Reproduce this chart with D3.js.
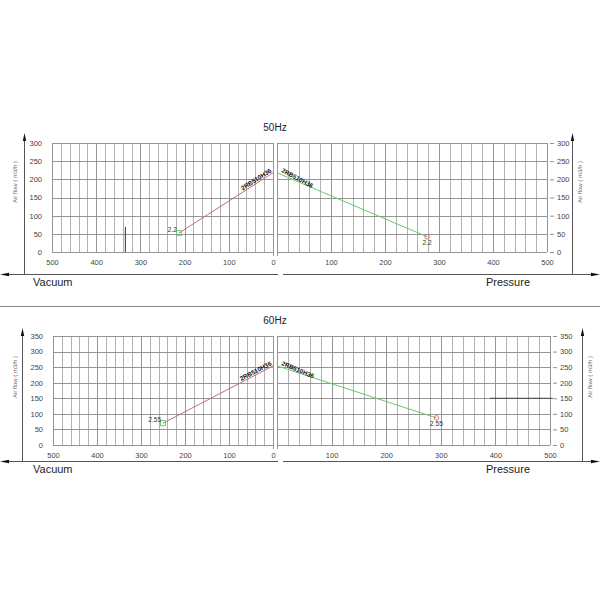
<!DOCTYPE html>
<html>
<head>
<meta charset="utf-8">
<script src="https://cdn.jsdelivr.net/npm/d3@7"></script>
<style>
  body { margin: 0; background: #fff; }
  text { font-family: "Liberation Sans", Arial, sans-serif; }
</style>
</head>
<body>
<div id="main-canvas"></div>
<script>
// Performance curves, two frequencies, vacuum side on the left and pressure side on the right

// ------------ DATA ------------ //
const hzLabels = ["50Hz", "60Hz"];
const modelName = "2RB510H36";
const powerLabels = ["2.2", "2.55"];          // kW at the end point of each curve
const pressureTicks = [0, 100, 200, 300, 400, 500];
const airflowTicks50 = [0, 50, 100, 150, 200, 250, 300];
const airflowTicks60 = [0, 50, 100, 150, 200, 250, 300, 350];

// [mbar, m3/h]
const vacuumCurve50 = [[213, 52], [0, 218]];
const pressureCurve50 = [[0, 218], [278, 42]];
const vacuumCurve60 = [[250, 70], [0, 254]];
const pressureCurve60 = [[0, 254], [292, 87]];

// stray marks that are in the scanned sheet
const strayVacuum50 = [[334, 0], [334, 69]];
const strayPressure60 = [[390, 150], [505, 150]];

// ------------ SET UP ------------ //
const width = 600, height = 600;

let svg = d3.select("#main-canvas").append("svg")
    .attr("width", width)
    .attr("height", height)

// separator between both charts
svg.append("line")
    .attr("x1", 0).attr("x2", width)
    .attr("y1", 306.5).attr("y2", 306.5)
    .attr("stroke", "#888").attr("stroke-width", 1)

drawChart({
    title: hzLabels[0], power: powerLabels[0], ticks: airflowTicks50,
    vac: vacuumCurve50, pre: pressureCurve50, strayVac: strayVacuum50,
    y0: 252, yTop: 143, left: [52, 273], right: [277, 547],
    axisY: 274, leftAxisX: 24, rightAxisX: 572, axisTop: 133,
    titleY: 131, airLabelY: 182, rightLabelX: 580, bottomTextY: 286
})

drawChart({
    title: hzLabels[1], power: powerLabels[1], ticks: airflowTicks60,
    vac: vacuumCurve60, pre: pressureCurve60, strayPre: strayPressure60,
    y0: 445, yTop: 336, left: [53, 273], right: [277, 550],
    axisY: 461, leftAxisX: 22, rightAxisX: 582, axisTop: 328,
    titleY: 324, airLabelY: 377, rightLabelX: 590, bottomTextY: 473
})

// ------------ FUNCTIONS ------------ //
function drawChart(c) {
    let g = svg.append("g")
    let yMax = c.ticks[c.ticks.length - 1]

    let y = d3.scaleLinear().domain([0, yMax]).range([c.y0, c.yTop])
    let xVac = d3.scaleLinear().domain([500, 0]).range(c.left)
    let xPre = d3.scaleLinear().domain([0, 500]).range(c.right)

    let gridValues = d3.range(0, 501, 20)

    // grids for both panels
    ;[xVac, xPre].forEach(x => {
        let grid = g.append("g").attr("class", "grid")
        grid.selectAll("line.v")
            .data(gridValues)
            .enter().append("line")
            .attr("x1", d => Math.round(x(d)) + 0.5)
            .attr("x2", d => Math.round(x(d)) + 0.5)
            .attr("y1", y(yMax))
            .attr("y2", d => d === 0 ? c.y0 + 4 : c.y0)
            .attr("stroke", d => d % 100 === 0 ? "#8a8a8a" : "#a8a8a8")
            .attr("stroke-width", 0.9)
        grid.selectAll("line.h")
            .data(c.ticks)
            .enter().append("line")
            .attr("x1", d3.min(x.range()))
            .attr("x2", d3.max(x.range()))
            .attr("y1", d => Math.round(y(d)) + 0.5)
            .attr("y2", d => Math.round(y(d)) + 0.5)
            .attr("stroke", "#8a8a8a")
            .attr("stroke-width", 0.9)
    })

    // x tick labels (the shared 0 is written once, under the vacuum panel)
    let xAxisVac = g.append("g")
        .attr("transform", `translate(0,${c.y0 + 5})`)
        .call(d3.axisBottom(xVac).tickValues(pressureTicks).tickSize(0))
    let xAxisPre = g.append("g")
        .attr("transform", `translate(0,${c.y0 + 5})`)
        .call(d3.axisBottom(xPre).tickValues(pressureTicks.filter(d => d > 0)).tickSize(0))
    ;[xAxisVac, xAxisPre].forEach(a => {
        a.select(".domain").remove()
        a.selectAll("text").attr("font-size", 7.5).attr("fill", "#444")
            .attr("font-family", "Liberation Sans, Arial, sans-serif")
    })

    // y tick labels, left and right
    let yLeft = g.append("g")
        .attr("transform", `translate(${c.left[0] - 3},0)`)
        .call(d3.axisLeft(y).tickValues(c.ticks).tickSize(0).tickPadding(7))
    let yRight = g.append("g")
        .attr("transform", `translate(${c.right[1] + 3},0)`)
        .call(d3.axisRight(y).tickValues(c.ticks).tickSize(4).tickPadding(3))
    ;[yLeft, yRight].forEach(a => {
        a.select(".domain").remove()
        a.selectAll("line").attr("stroke", "#777").attr("stroke-width", 0.8)
        a.selectAll("text").attr("font-size", 7.5).attr("fill", "#444")
            .attr("font-family", "Liberation Sans, Arial, sans-serif")
    })

    // main axes with arrows
    let axisColor = "#555"
    g.append("line")
        .attr("x1", 4).attr("x2", c.left[1] + 5)
        .attr("y1", c.axisY + 0.5).attr("y2", c.axisY + 0.5)
        .attr("stroke", axisColor)
    g.append("line")
        .attr("x1", c.right[0] + 6).attr("x2", width - 4)
        .attr("y1", c.axisY + 0.5).attr("y2", c.axisY + 0.5)
        .attr("stroke", axisColor)
    g.append("line")
        .attr("x1", c.leftAxisX + 0.5).attr("x2", c.leftAxisX + 0.5)
        .attr("y1", c.axisTop + 4).attr("y2", c.axisY)
        .attr("stroke", axisColor)
    g.append("line")
        .attr("x1", c.rightAxisX + 0.5).attr("x2", c.rightAxisX + 0.5)
        .attr("y1", c.axisTop + 4).attr("y2", c.axisY)
        .attr("stroke", axisColor)

    let arrows = [
        [[0, c.axisY + 0.5], [9, c.axisY - 1.2], [9, c.axisY + 2.2]],
        [[width, c.axisY + 0.5], [width - 9, c.axisY - 1.2], [width - 9, c.axisY + 2.2]],
        [[c.leftAxisX + 0.5, c.axisTop], [c.leftAxisX - 1.2, c.axisTop + 8], [c.leftAxisX + 2.2, c.axisTop + 8]],
        [[c.rightAxisX + 0.5, c.axisTop], [c.rightAxisX - 1.2, c.axisTop + 8], [c.rightAxisX + 2.2, c.axisTop + 8]]
    ]
    g.selectAll("path.arrow")
        .data(arrows)
        .enter().append("path")
        .attr("d", d => "M" + d.join("L") + "Z")
        .attr("fill", "#111")

    // texts
    g.append("text")
        .attr("x", 275).attr("y", c.titleY)
        .attr("text-anchor", "middle")
        .attr("font-size", 10).attr("fill", "#222")
        .text(c.title)
    g.append("text")
        .attr("x", 33).attr("y", c.bottomTextY)
        .attr("font-size", 11).attr("fill", "#222")
        .text("Vacuum")
    g.append("text")
        .attr("x", 486).attr("y", c.bottomTextY)
        .attr("font-size", 11).attr("fill", "#222")
        .text("Pressure")
    ;[15, c.rightLabelX].forEach(px => {
        g.append("text")
            .attr("transform", `translate(${px + 2},${c.airLabelY}) rotate(-90)`)
            .attr("text-anchor", "middle")
            .attr("font-size", 6).attr("fill", "#666")
            .text("Air flow ( m3/h )")
    })

    // stray marks
    let line = (x) => d3.line().x(d => x(d[0])).y(d => y(d[1]))
    if (c.strayVac) {
        g.append("path").attr("d", line(xVac)(c.strayVac))
            .attr("stroke", "#333").attr("stroke-width", 1).attr("fill", "none")
    }
    if (c.strayPre) {
        g.append("path").attr("d", line(xPre)(c.strayPre))
            .attr("stroke", "#444").attr("stroke-width", 1).attr("fill", "none")
    }

    // vacuum curve
    g.append("path").attr("d", line(xVac)(c.vac))
        .attr("stroke", "#c07070").attr("stroke-width", 1).attr("fill", "none")
    let vs = c.vac[0]
    g.append("rect")
        .attr("x", xVac(vs[0]) - 2.5).attr("y", y(vs[1]) - 2.5)
        .attr("width", 5).attr("height", 5)
        .attr("fill", "none").attr("stroke", "#6c6").attr("stroke-width", 0.9)
    g.append("text")
        .attr("x", xVac(vs[0]) - 2).attr("y", y(vs[1]) - 1)
        .attr("text-anchor", "end")
        .attr("font-size", 6.5).attr("fill", "#333")
        .text(c.power)

    // pressure curve
    g.append("path").attr("d", line(xPre)(c.pre))
        .attr("stroke", "#6c6").attr("stroke-width", 1).attr("fill", "none")
    let pe = c.pre[c.pre.length - 1]
    g.append("circle")
        .attr("cx", xPre(pe[0])).attr("cy", y(pe[1])).attr("r", 2.3)
        .attr("fill", "none").attr("stroke", "#d66").attr("stroke-width", 0.9)
    g.append("text")
        .attr("x", xPre(pe[0])).attr("y", y(pe[1]) + 8.5)
        .attr("text-anchor", "middle")
        .attr("font-size", 6.5).attr("fill", "#333")
        .text(c.power)

    // model names along the curves
    let ve = c.vac[c.vac.length - 1]
    let angV = Math.atan2(y(ve[1]) - y(vs[1]), xVac(ve[0]) - xVac(vs[0])) * 180 / Math.PI
    g.append("text")
        .attr("transform", `translate(${xVac(ve[0]) - 1},${y(ve[1]) - 1}) rotate(${angV})`)
        .attr("text-anchor", "end")
        .attr("font-size", 6.3).attr("font-weight", "bold").attr("fill", "#111")
        .text(modelName)
    let ps = c.pre[0]
    let angP = Math.atan2(y(pe[1]) - y(ps[1]), xPre(pe[0]) - xPre(ps[0])) * 180 / Math.PI
    g.append("text")
        .attr("transform", `translate(${xPre(ps[0]) + 4},${y(ps[1]) - 1}) rotate(${angP + 5})`)
        .attr("text-anchor", "start")
        .attr("font-size", 6.3).attr("font-weight", "bold").attr("fill", "#111")
        .text(modelName)
}
</script>
</body>
</html>
